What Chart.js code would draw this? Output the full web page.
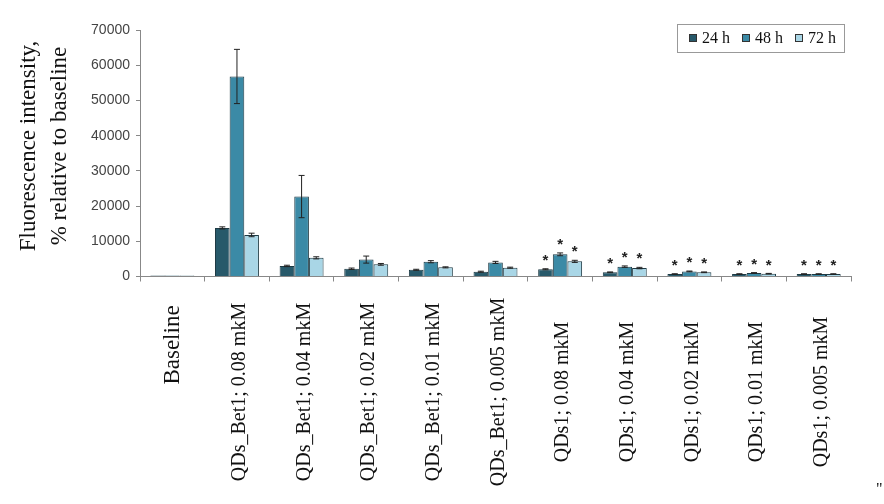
<!DOCTYPE html>
<html><head><meta charset="utf-8">
<script src="https://cdn.jsdelivr.net/npm/chart.js@4.4.1/dist/chart.umd.min.js"></script>
<style>html,body{margin:0;padding:0;background:#fff;}#wrap{width:884px;height:504px;}</style>
</head><body><div id="wrap"><canvas id="c" width="884" height="504"></canvas></div>
<script>
const categories = ['Baseline','QDs_Bet1; 0.08 mkM','QDs_Bet1; 0.04 mkM','QDs_Bet1; 0.02 mkM','QDs_Bet1; 0.01 mkM','QDs_Bet1; 0.005 mkM','QDs1; 0.08 mkM','QDs1; 0.04 mkM','QDs1; 0.02 mkM','QDs1; 0.01 mkM','QDs1; 0.005 mkM'];
const seriesLabels = ['24 h','48 h','72 h'];
const values24 = [250, 13800, 3000, 2200, 1900, 1350, 2050, 1200, 700, 700, 700];
const values48 = [250, 56800, 22700, 4800, 4200, 4000, 6300, 2800, 1450, 1000, 700];
const values72 = [250, 11800, 5300, 3450, 2600, 2500, 4300, 2400, 1200, 800, 700];
const errors24 = [0, 300, 200, 200, 150, 150, 150, 100, 80, 80, 80];
const errors48 = [0, 7700, 6000, 1000, 300, 300, 400, 200, 100, 100, 80];
const errors72 = [0, 500, 300, 250, 150, 150, 300, 200, 100, 80, 80];
const significant = [false, false, false, false, false, false, true, true, true, true, true];
const yTicks = [0, 10000, 20000, 30000, 40000, 50000, 60000, 70000];
const yTitle = ['Fluorescence intensity,', '% relative to baseline'];

const colors = ['#27596a', '#3b8aa6', '#a9d6e6'];
const borderCol = '#1e3a44';
const valueSets = [values24, values48, values72];
const errorSets = [errors24, errors48, errors72];

const extras = {
  id: 'extras',
  afterDatasetsDraw(chart) {
    const ctx = chart.ctx, y = chart.scales.y;
    ctx.save();
    chart.data.datasets.forEach((ds, i) => {
      const meta = chart.getDatasetMeta(i);
      meta.data.forEach((bar, j) => {
        const v = ds.data[j], e = errorSets[i][j];
        const yt = y.getPixelForValue(v + e), yb = y.getPixelForValue(Math.max(0, v - e));
        if (e > 0) {
          ctx.strokeStyle = '#222'; ctx.lineWidth = 1;
          ctx.beginPath();
          ctx.moveTo(bar.x, yt); ctx.lineTo(bar.x, yb);
          ctx.moveTo(bar.x - 3, yt); ctx.lineTo(bar.x + 3, yt);
          ctx.moveTo(bar.x - 3, yb); ctx.lineTo(bar.x + 3, yb);
          ctx.stroke();
        }
        if (significant[j]) {
          ctx.fillStyle = '#222';
          ctx.font = 'bold 15px "Liberation Sans"';
          ctx.textAlign = 'center'; ctx.textBaseline = 'middle';
          ctx.fillText('*', bar.x, yt - 8);
        }
      });
    });
    ctx.restore();
  },
  afterDraw(chart) {
    const ctx = chart.ctx, x = chart.scales.x, ca = chart.chartArea;
    ctx.save();
    ctx.fillStyle = '#111';
    ctx.textAlign = 'center'; ctx.textBaseline = 'middle';
    categories.forEach((lab, i) => {
      const px = x.getPixelForValue(i);
      const big = i === 0;
      ctx.save();
      ctx.translate(px + (big ? 1 : 3), big ? 345 : 392);
      ctx.rotate(-Math.PI / 2);
      ctx.font = (big ? 23 : 20) + 'px "Liberation Serif"';
      ctx.fillText(lab, 0, 0);
      ctx.restore();
    });
    ctx.textBaseline = 'alphabetic';
    ctx.font = '23px "Liberation Serif"';
    [35, 66].forEach((bx, k) => {
      ctx.save();
      ctx.translate(bx, 146);
      ctx.rotate(-Math.PI / 2);
      ctx.fillText(yTitle[k], 0, 0);
      ctx.restore();
    });
    const lx = ca.right - 174, ly = 24;
    ctx.strokeStyle = '#999'; ctx.lineWidth = 1;
    ctx.strokeRect(lx + 0.5, ly + 0.5, 167, 28);
    ctx.font = '16px "Liberation Serif"';
    ctx.textAlign = 'left'; ctx.textBaseline = 'middle';
    chart.data.datasets.forEach((ds, i) => {
      const sx = lx + 12 + i * 53;
      ctx.fillStyle = ds.backgroundColor;
      ctx.fillRect(sx, ly + 10, 8, 8);
      ctx.strokeStyle = '#333';
      ctx.strokeRect(sx + 0.5, ly + 10.5, 7, 7);
      ctx.fillStyle = '#111';
      ctx.fillText(ds.label, sx + 13, ly + 15);
    });
    ctx.font = '16px "Liberation Serif"';
    ctx.fillText('"', 876, 490);
    ctx.restore();
  }
};

new Chart(document.getElementById('c'), {
  type: 'bar',
  data: {
    labels: categories,
    datasets: valueSets.map((vals, i) => ({
      label: seriesLabels[i],
      data: vals,
      backgroundColor: colors[i],
      borderColor: borderCol,
      borderWidth: 1,
      categoryPercentage: 0.68,
      barPercentage: 1.0
    }))
  },
  options: {
    responsive: false,
    animation: false,
    devicePixelRatio: 1,
    layout: { padding: { top: 30, right: 33, left: 0, bottom: 0 } },
    plugins: { legend: { display: false }, tooltip: { enabled: false } },
    scales: {
      x: {
        grid: { drawOnChartArea: false, color: '#888', tickLength: 5, offset: true },
        border: { color: '#888' },
        ticks: { display: false },
        afterFit(s) { s.height = 227.5; }
      },
      y: {
        min: 0, max: 70000,
        afterBuildTicks(s) { s.ticks = yTicks.map(v => ({ value: v })); },
        ticks: { font: { family: 'Liberation Sans', size: 14 }, color: '#444', padding: 6, callback: v => String(v) },
        grid: { drawOnChartArea: false, color: '#888', tickLength: 4 },
        border: { color: '#888' },
        afterFit(s) { s.width = 140; }
      }
    }
  },
  plugins: [extras]
});
</script></body></html>
